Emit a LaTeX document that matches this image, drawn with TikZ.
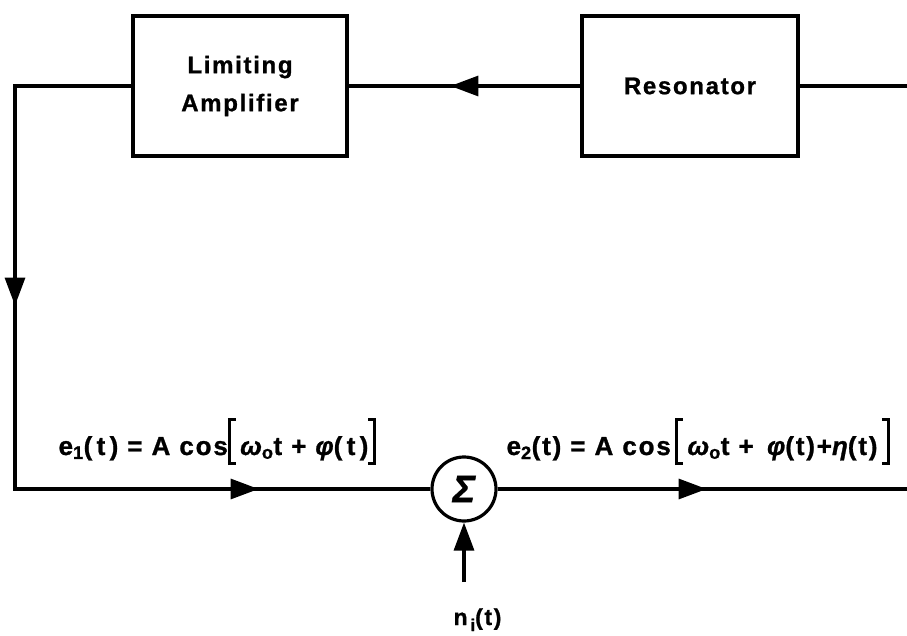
\documentclass[tikz,border=0pt]{standalone}
\usepackage{fontspec}
\setmainfont{Liberation Sans}
\newfontfamily\lblfont[LetterSpace=7,FakeBold=1]{Liberation Sans}
\newfontfamily\eqfont[LetterSpace=7,FakeBold=1]{Liberation Sans}
\usetikzlibrary{arrows.meta,decorations.markings}
\newcommand{\mylbr}{\raisebox{-10pt}{\rule{3pt}{47pt}}\kern-3pt\raisebox{-10pt}{\rule{8pt}{3pt}}\kern-8pt\raisebox{34pt}{\rule{8pt}{3pt}}}
\newcommand{\myrbr}{\raisebox{-10pt}{\rule{8pt}{3pt}}\kern-8pt\raisebox{34pt}{\rule{8pt}{3pt}}\kern-3pt\raisebox{-10pt}{\rule{3pt}{47pt}}}
\newcommand{\gk}[1]{{\itshape #1}}
\tikzset{tri/.tip={Triangle[length=28pt,width=20pt]}}
\begin{document}
\begin{tikzpicture}[x=1pt,y=-1pt,line width=3.2pt,
  blk/.style={draw,minimum width=214pt,minimum height=140pt,inner sep=0pt,align=center,
    font=\lblfont\bfseries\fontsize{24}{38}\selectfont},
  sumnode/.style={circle,draw,minimum size=64pt,inner sep=0pt,font=\eqfont\bfseries\itshape\fontsize{38}{40}\selectfont},
  eqlabel/.style={anchor=base west,inner sep=0pt,font=\eqfont\bfseries\fontsize{26}{30}\selectfont},
  arrowat/.style={postaction={decorate},decoration={markings,mark=at position #1 with {\arrow{tri}}}}]
\useasboundingbox (0,0) rectangle (907,636);
\node[blk] (lim) at (240,86) {Limiting\\Amplifier};
\node[blk,minimum width=216pt] (res) at (690,86) {Resonator};
\node[sumnode] (sum) at (464,489) {Σ};
\coordinate (tl) at (15,86);
\coordinate (bl) at (15,489);
\coordinate (tr) at (907,86);
\coordinate (br) at (907,489);
\coordinate (nb) at (464,582);
\draw (res.east) -- (tr);
\draw[arrowat=130pt] (res.west) -- (lim.east);
\draw[postaction={decorate},decoration={markings,
   mark=at position 336pt with {\arrow{tri}},
   mark=at position 763pt with {\arrow{tri}}}]
  (lim.west) -- (tl) -- (bl) -- (sum.west);
\draw[arrowat=209pt] (sum.east) -- (br);
\draw[-{tri}] (nb) -- (sum.south);
\node[eqlabel] (e1) at (57,455) {e\textsubscript{1}(\,t\,) = A cos\mylbr\,\gk{ω}\textsubscript{o}t + \gk{φ}(\,t\,)\myrbr};
\node[eqlabel] (e2) at (505,455) {e\textsubscript{2}(t) = A cos\,\mylbr\,\gk{ω}\textsubscript{o}t + \,\gk{φ}(t)+\gk{η}(t)\,\myrbr};
\node[eqlabel,font=\eqfont\bfseries\fontsize{23}{26}\selectfont] (ni) at (452,625) {n\raisebox{-6pt}{\fontsize{17}{18}\selectfont\,i}(t)};
\end{tikzpicture}
\end{document}
